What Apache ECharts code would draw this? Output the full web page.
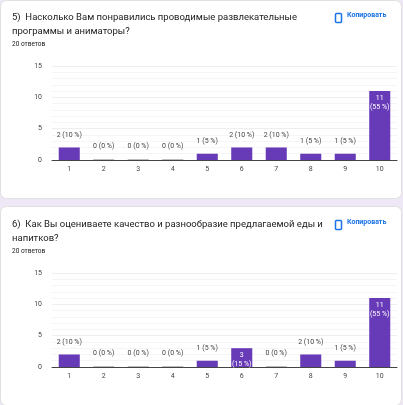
<!DOCTYPE html><html><head><meta charset="utf-8">
<script src="https://cdn.jsdelivr.net/npm/echarts@6/dist/echarts.min.js"></script>
<style>html,body{margin:0;padding:0;background:#ede7f6}#c{width:403px;height:405px}</style></head><body><div id="c"></div>
<script>
const categories=['1','2','3','4','5','6','7','8','9','10'];
const values1=[2,0,0,0,1,2,2,1,1,11];
const values2=[2,0,0,0,1,3,0,2,1,11];
const yTicks=[0,5,10,15];
const title1='5)  Насколько Вам понравились проводимые развлекательные\nпрограммы и аниматоры?';
const title2='6)  Как Вы оцениваете качество и разнообразие предлагаемой еды и\nнапитков?';
const total=20;
const F='Roboto, Arial, sans-serif';
function mk(vals){return vals.map(v=>{const p=Math.round(v/total*100);const inside=v>=3;return {value:v,itemStyle:{color:v===0?'#bdbdbd':'#673ab7'},label:{show:true,position:inside?'insideTop':'top',distance:inside?3:8,color:inside?'#fff':'#444',fontSize:7,fontFamily:F,lineHeight:9,formatter:inside?(v+'\n('+p+' %)'):(v+' ('+p+' %)')}};});}
const ch=echarts.init(document.getElementById('c'));
function ax(i){return {gridIndex:i,type:'category',data:categories,axisTick:{show:false},axisLine:{lineStyle:{color:'#444'}},axisLabel:{fontSize:7,color:'#444',fontFamily:F,margin:6}};}
function ay(i){return {gridIndex:i,type:'value',min:0,max:15,interval:5,axisLabel:{fontSize:7,color:'#444',fontFamily:F,margin:10},splitLine:{lineStyle:{color:'#eee'}},minorTick:{show:false},minorSplitLine:{show:true,lineStyle:{color:'#f5f5f5'}},splitNumber:3};}
function hdr(y,t){return [
 {type:'text',left:12,top:y,style:{text:t,fontSize:9.5,fill:'#202124',fontFamily:F,lineHeight:14}},
 {type:'text',left:12,top:y+30,style:{text:total+' ответов',fontSize:6.5,fill:'#202124',fontFamily:F}},
 {type:'rect',left:333,top:y,shape:{width:6,height:9,r:1},style:{fill:'none',stroke:'#1a73e8',lineWidth:1.5}},
 {type:'text',left:347,top:y+1,style:{text:'Копировать',fontSize:7,fill:'#1a73e8',fontFamily:F,fontWeight:'bold'}}];}
ch.setOption({
 graphic:[
  {type:'rect',left:0,top:0,shape:{width:401,height:198,r:6},style:{fill:'#fff',stroke:'#e0e0e0'}},
  {type:'rect',left:0,top:206,shape:{width:401,height:199,r:6},style:{fill:'#fff',stroke:'#e0e0e0'}},
  ...hdr(11,title1),...hdr(18+200,title2)],
 grid:[{left:52,right:6,top:66,height:94},{left:52,right:6,top:273,height:94}],
 xAxis:[ax(0),ax(1)],yAxis:[ay(0),ay(1)],
 series:[{type:'bar',xAxisIndex:0,yAxisIndex:0,data:mk(values1),barWidth:'61%',barMinHeight:1,animation:false},
  {type:'bar',xAxisIndex:1,yAxisIndex:1,data:mk(values2),barWidth:'61%',barMinHeight:1,animation:false}]
});
</script></body></html>
